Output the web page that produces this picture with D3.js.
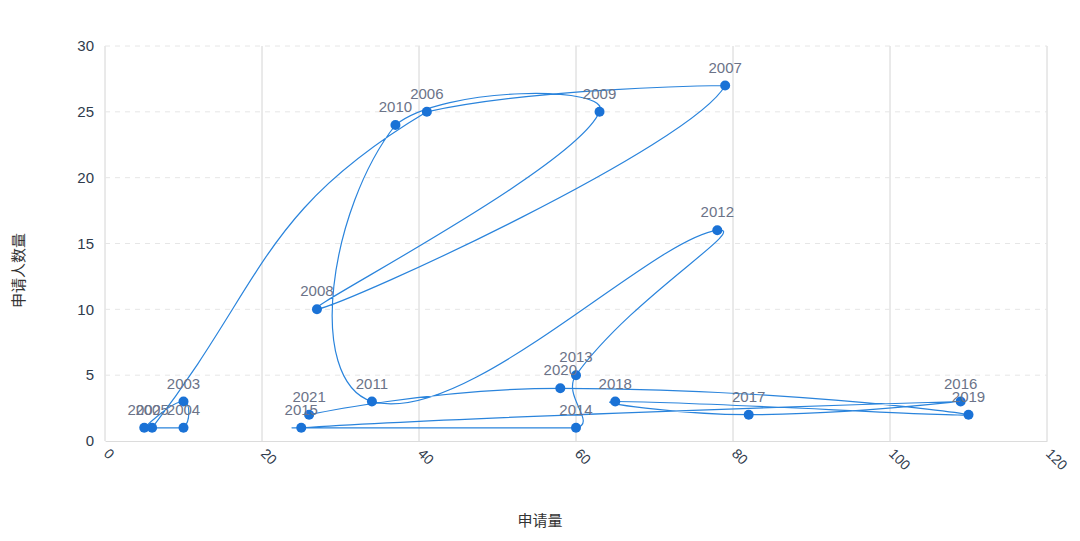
<!DOCTYPE html>
<html>
<head>
<meta charset="utf-8">
<script src="https://cdn.jsdelivr.net/npm/d3@7"></script>
<style>
  body { margin: 0; background: #fff; }
  #chart-area { width: 1080px; height: 541px; }
  text { font-family: "Liberation Sans", Arial, "Noto Sans CJK SC", sans-serif; }
</style>
</head>
<body>
<div id="chart-area"></div>
<script>
// data
const years = [2002, 2003, 2004, 2005, 2006, 2007, 2008, 2009, 2010, 2011,
  2012, 2013, 2014, 2015, 2016, 2017, 2018, 2019, 2020, 2021];
const applications = [5, 10, 10, 6, 41, 79, 27, 63, 37, 34,
  78, 60, 60, 25, 109, 82, 65, 110, 58, 26];
const applicants = [1, 3, 1, 1, 25, 27, 10, 25, 24, 3,
  16, 5, 1, 1, 3, 2, 3, 2, 4, 2];
const xTicks = [0, 20, 40, 60, 80, 100, 120];
const yTicks = [0, 5, 10, 15, 20, 25, 30];

let margin = { top: 46, right: 33, bottom: 100, left: 105 },
  width = 1080 - margin.left - margin.right,
  height = 541 - margin.top - margin.bottom;

let svg = d3
  .select("#chart-area")
  .append("svg")
  .attr("width", 1080)
  .attr("height", 541)
  .append("g")
  .attr("transform", "translate(" + margin.left + "," + margin.top + ")");

let x = d3.scaleLinear().domain([0, 120]).range([0, width]);
let y = d3.scaleLinear().domain([0, 30]).range([height, 0]);

// GRID
svg.selectAll(".vgrid")
  .data(xTicks)
  .enter()
  .append("line")
  .attr("x1", d => x(d)).attr("x2", d => x(d))
  .attr("y1", 0).attr("y2", height)
  .attr("stroke", "#d4d4d4")
  .attr("stroke-width", 1);

svg.selectAll(".hgrid")
  .data(yTicks.slice(1))
  .enter()
  .append("line")
  .attr("x1", 0).attr("x2", width)
  .attr("y1", d => y(d)).attr("y2", d => y(d))
  .attr("stroke", "#e6e6e6")
  .attr("stroke-dasharray", "5,5");

// AXIS
let xAxis = d3.axisBottom(x).tickValues(xTicks).tickSize(0).tickPadding(0);
let yAxis = d3.axisLeft(y).tickValues(yTicks).tickSize(0).tickPadding(11);

let xAxisGroup = svg.append("g")
  .attr("class", "x-axis axis")
  .attr("transform", "translate(0," + height + ")")
  .call(xAxis);
xAxisGroup.select(".domain").attr("stroke", "#dcdcdc");
xAxisGroup.selectAll("text")
  .attr("fill", "#2f3b4c")
  .attr("font-size", 14)
  .attr("text-anchor", "start")
  .attr("y", 0)
  .attr("dy", "0.35em")
  .attr("transform", "translate(1,10) rotate(45)");

let yAxisGroup = svg.append("g").attr("class", "y-axis axis").call(yAxis);
yAxisGroup.select(".domain").remove();
yAxisGroup.selectAll("text")
  .attr("fill", "#2f3b4c")
  .attr("font-size", 15);

svg.append("text")
  .attr("x", width / 2 - 36)
  .attr("y", height + 85)
  .attr("text-anchor", "middle")
  .attr("fill", "#333")
  .attr("font-size", 15)
  .text("申请量");

svg.append("text")
  .attr("transform", "translate(" + (-81) + "," + (height / 2 + 27) + ") rotate(-90)")
  .attr("text-anchor", "middle")
  .attr("fill", "#333")
  .attr("font-size", 15)
  .text("申请人数量");

// LINE (smoothed like the original: control points from neighbours, clamped to the bbox)
let pts = years.map((d, i) => [x(applications[i]), y(applicants[i])]);

function smoothPath(points, smooth) {
  let minX = d3.min(points, p => p[0]), maxX = d3.max(points, p => p[0]);
  let minY = d3.min(points, p => p[1]), maxY = d3.max(points, p => p[1]);
  let clamp = p => [Math.min(maxX, Math.max(minX, p[0])), Math.min(maxY, Math.max(minY, p[1]))];
  let cps = [];
  for (let i = 0; i < points.length; i++) {
    let p = points[i];
    if (i === 0 || i === points.length - 1) {
      cps.push(p.slice());
      continue;
    }
    let prev = points[i - 1], next = points[i + 1];
    let vx = (next[0] - prev[0]) * smooth, vy = (next[1] - prev[1]) * smooth;
    let d0 = Math.hypot(p[0] - prev[0], p[1] - prev[1]);
    let d1 = Math.hypot(p[0] - next[0], p[1] - next[1]);
    let sum = d0 + d1;
    if (sum !== 0) { d0 /= sum; d1 /= sum; }
    cps.push(clamp([p[0] - vx * d0, p[1] - vy * d0]));
    cps.push(clamp([p[0] + vx * d1, p[1] + vy * d1]));
  }
  let path = d3.path();
  path.moveTo(points[0][0], points[0][1]);
  for (let i = 0; i < points.length - 1; i++) {
    let c0 = cps[2 * i], c1 = cps[2 * i + 1], q = points[i + 1];
    path.bezierCurveTo(c0[0], c0[1], c1[0], c1[1], q[0], q[1]);
  }
  return path.toString();
}

svg.append("path")
  .attr("d", smoothPath(pts, 0.5))
  .attr("fill", "none")
  .attr("stroke", "#2a84dc")
  .attr("stroke-width", 1.2);

// POINTS
svg.selectAll(".dot")
  .data(years)
  .enter()
  .append("circle")
  .attr("class", "dot")
  .attr("cx", (d, i) => x(applications[i]))
  .attr("cy", (d, i) => y(applicants[i]))
  .attr("r", 5)
  .attr("fill", "#1a72d6");

svg.selectAll(".label")
  .data(years)
  .enter()
  .append("text")
  .attr("class", "label")
  .attr("x", (d, i) => x(applications[i]))
  .attr("y", (d, i) => y(applicants[i]) - 13)
  .attr("text-anchor", "middle")
  .attr("fill", "#6b7388")
  .attr("font-size", 15)
  .text(d => d);
</script>
</body>
</html>
